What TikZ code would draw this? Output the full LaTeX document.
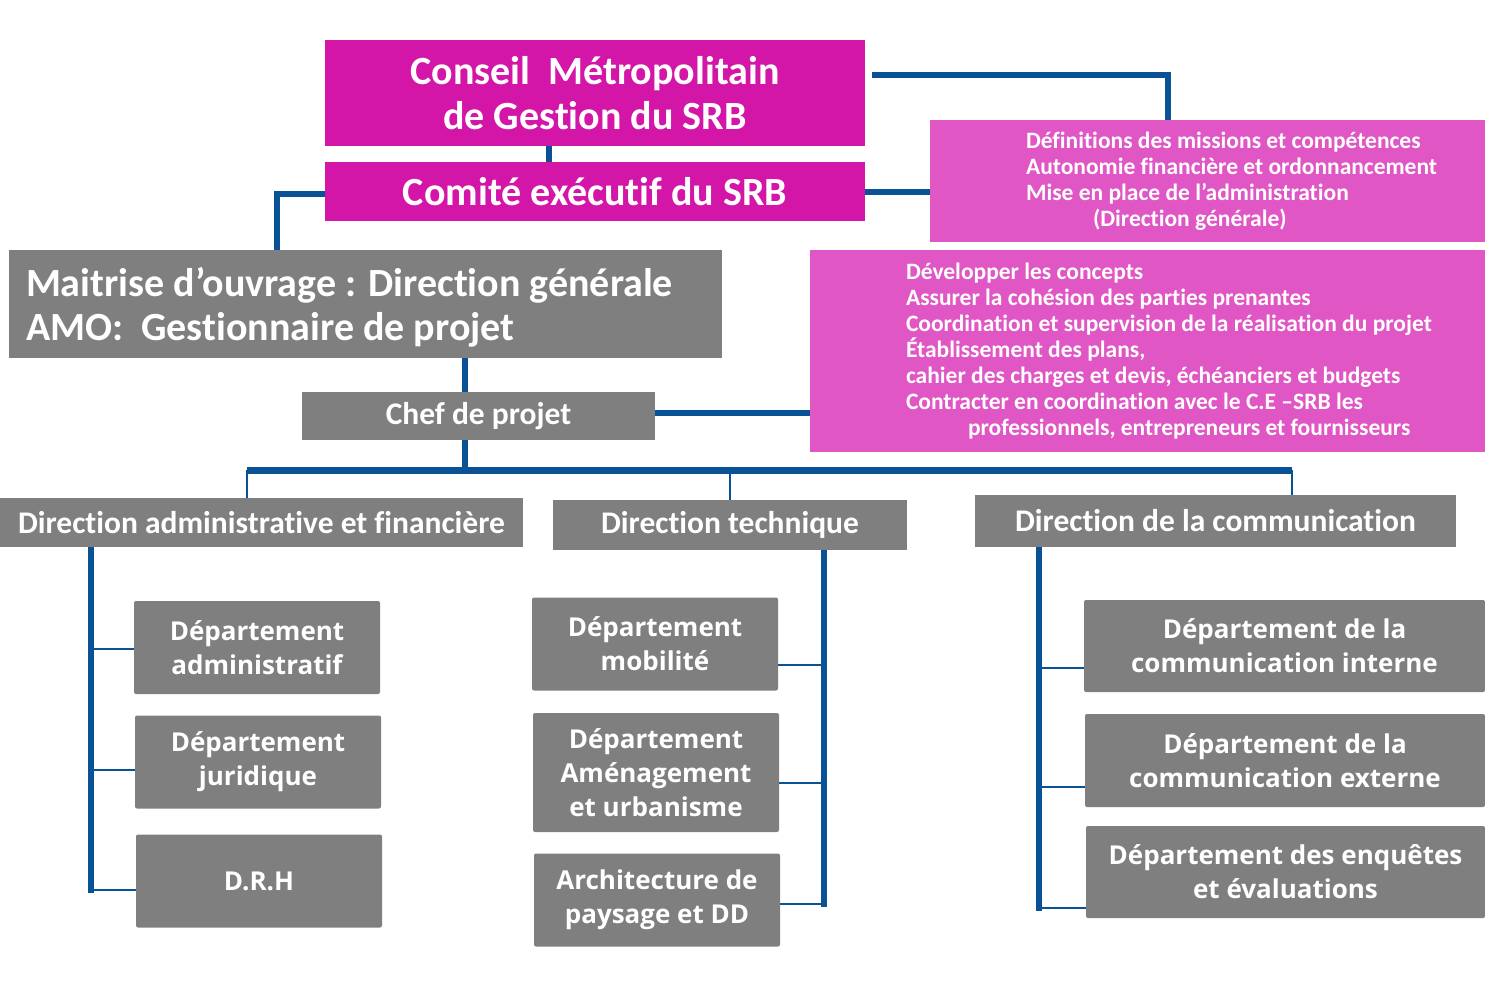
\documentclass[tikz,border=0pt]{standalone}
\usepackage{fontspec}
\setmainfont{Carlito}[Ligatures=NoCommon]
\newfontfamily\deptfont{Open Sans}
\usetikzlibrary{backgrounds}
\definecolor{magA}{RGB}{212,22,168}
\definecolor{magB}{RGB}{224,86,196}
\definecolor{grayb}{RGB}{127,127,127}
\definecolor{lineblue}{RGB}{10,82,150}
\begin{document}
\begin{tikzpicture}[x=1pt,y=-1pt,
  hdbox/.style={rectangle, inner sep=0pt, text=white, align=center},
  magbox/.style={hdbox, fill=magA, font=\bfseries\fontsize{40}{45}\selectfont},
  graybox/.style={hdbox, fill=grayb, font=\bfseries\fontsize{31.5}{36}\selectfont},
  pinkbox/.style={rectangle, inner sep=0pt, fill=magB},
  pinktext/.style={anchor=west, align=left, inner sep=0pt, text=white, font=\bfseries\fontsize{23.5}{26}\selectfont},
  deptbox/.style={rectangle, rounded corners=2pt, inner sep=0pt, fill=grayb, text=white, align=center, minimum width=246pt, minimum height=93pt, font=\deptfont\bfseries\fontsize{26}{34}\selectfont},
  conn/.style={draw=lineblue, line width=6pt},
  connthin/.style={draw=lineblue, line width=1.6pt}]
\useasboundingbox (0,0) rectangle (1485,985);

% top level
\node[magbox, minimum width=540pt, minimum height=106pt] (conseil) at (595,93) {Conseil\ \ Métropolitain\\de Gestion du SRB};
\node[magbox, minimum width=540pt, minimum height=59pt] (comite) at (595,191.5) {Comité exécutif du SRB};
\node[pinkbox, minimum width=555pt, minimum height=122pt] (pinkA) at (1207.5,181) {};
\node[pinktext] (pinkAtext) at ([xshift=96pt]pinkA.west) {Définitions des missions et compétences\\Autonomie financière et ordonnancement\\Mise en place de l’administration\\\hspace*{67pt}(Direction générale)};
\node[hdbox, fill=grayb, minimum width=713pt, minimum height=108pt] (maitrise) at (365.5,304) {};
\node[anchor=west, align=left, inner sep=0pt, text=white, font=\bfseries\fontsize{40}{44}\selectfont] (maitrisetext) at ([xshift=17pt,yshift=-3pt]maitrise.west) {Maitrise d’ouvrage : Direction générale\\AMO:\ \ Gestionnaire de projet};
\node[pinkbox, minimum width=675pt, minimum height=202pt] (pinkB) at (1147.5,351) {};
\node[pinktext] (pinkBtext) at ([xshift=96pt]pinkB.west) {Développer les concepts\\Assurer la cohésion des parties prenantes\\Coordination et supervision de la réalisation du projet\\Établissement des plans,\\cahier des charges et devis, échéanciers et budgets\\Contracter en coordination avec le C.E –SRB les\\\hspace*{62pt}professionnels, entrepreneurs et fournisseurs};
\node[graybox, minimum width=353pt, minimum height=48pt] (chef) at (478.5,416) {Chef de projet};

% directions
\node[graybox, minimum width=523pt, minimum height=49pt] (dadmin) at (261.5,522.5) {Direction administrative et financière};
\node[graybox, minimum width=354pt, minimum height=50pt] (dtech) at (730,525) {Direction technique};
\node[graybox, minimum width=481pt, minimum height=52pt] (dcomm) at (1215.5,521) {Direction de la communication};

% departments
\node[deptbox] (d1) at (257,647.5) {Département\\administratif};
\node[deptbox] (d2) at (258,762) {Département\\juridique};
\node[deptbox] (d3) at (259,881) {D.R.H};
\node[deptbox] (t1) at (655,644) {Département\\mobilité};
\node[deptbox, minimum height=119pt] (t2) at (656,772.5) {Département\\Aménagement\\et urbanisme};
\node[deptbox] (t3) at (657,900) {Architecture de\\paysage et DD};
\node[deptbox, minimum width=401pt, minimum height=92pt] (c1) at (1284.5,646) {Département de la\\communication interne};
\node[deptbox, minimum width=400pt, minimum height=93pt] (c2) at (1285,760.5) {Département de la\\communication externe};
\node[deptbox, minimum width=399pt, minimum height=92pt] (c3) at (1285.5,872) {Département des enquêtes\\et évaluations};

\begin{scope}[on background layer]
% top connectors
\coordinate (cA) at ([xshift=7pt,yshift=18pt]conseil.east);
\coordinate (pA) at ([xshift=-39.5pt]pinkA.north);
\draw[conn] (cA) -| (pA);
\draw[conn] ([xshift=-46pt]conseil.south) -- ([xshift=-46pt]comite.north);
\coordinate (cW) at ([yshift=-2.5pt]comite.west);
\coordinate (mN) at ([xshift=-88.5pt]maitrise.north);
\draw[conn] (cW) -| (mN);
\draw[conn] (comite.east) -- (comite.east -| pinkA.west);
\coordinate (chefTop) at ([xshift=-13.5pt]chef.north);
\draw[conn] (chefTop) -- (chefTop |- maitrise.south);
\coordinate (chefE) at ([yshift=3pt]chef.east);
\draw[conn] (chefE) -- (chefE -| pinkB.west);
% bus
\coordinate (chefBot) at ([xshift=-13.5pt]chef.south);
\coordinate (busL) at (247,470);
\coordinate (busR) at (1292,470);
\draw[conn] (chefBot) -- (chefBot |- busL);
\draw[conn, line width=7pt] (busL) -- (busR);
\draw[connthin] (busL) -- (busL |- dadmin.north);
\draw[connthin] (busL -| dtech.north) -- (dtech.north);
\draw[connthin] (busR) -- (busR |- dcomm.north);
% admin tree
\coordinate (aX) at (91,0);
\coordinate (a1) at ([yshift=-1.5pt]d1.west);
\coordinate (a2) at ([yshift=-8pt]d2.west);
\coordinate (a3) at ([yshift=-9pt]d3.west);
\draw[conn, line cap=rect] (aX |- dadmin.south) -- (aX |- a3);
\foreach \p in {a1,a2,a3} \draw[connthin] (aX |- \p) -- (\p);
% tech tree
\coordinate (tX) at (824,0);
\coordinate (b1) at ([yshift=-21pt]t1.east);
\coordinate (b2) at ([yshift=-10.5pt]t2.east);
\coordinate (b3) at ([yshift=-4pt]t3.east);
\draw[conn, line cap=rect] (tX |- dtech.south) -- (tX |- b3);
\foreach \p in {b1,b2,b3} \draw[connthin] (tX |- \p) -- (\p);
% comm tree
\coordinate (cX) at (1039,0);
\coordinate (e1) at ([yshift=-22pt]c1.west);
\coordinate (e2) at ([yshift=-26.5pt]c2.west);
\coordinate (e3) at ([yshift=-36pt]c3.west);
\draw[conn, line cap=rect] (cX |- dcomm.south) -- (cX |- e3);
\foreach \p in {e1,e2,e3} \draw[connthin] (cX |- \p) -- (\p);
\end{scope}
\end{tikzpicture}
\end{document}
